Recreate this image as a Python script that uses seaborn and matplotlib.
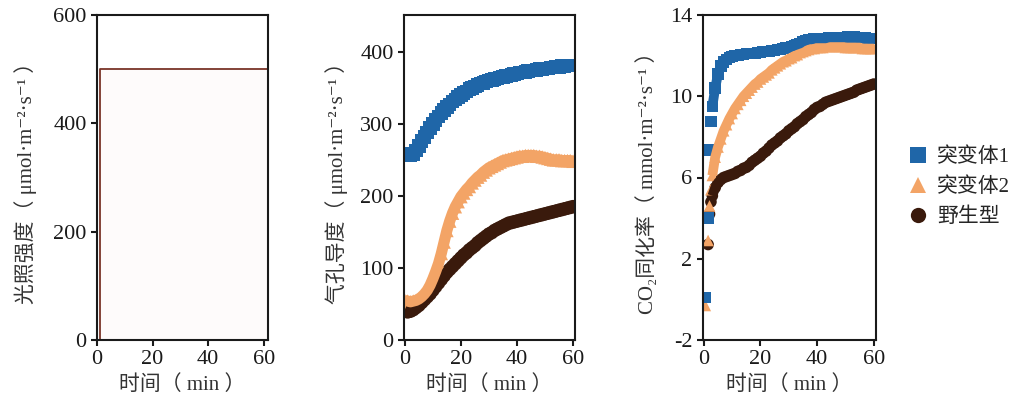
import matplotlib
matplotlib.use("Agg")
import matplotlib.pyplot as plt
import numpy as np
import pandas as pd
import seaborn as sns

# ---------------------------------------------------------------------------
# Data
# ---------------------------------------------------------------------------
GENOTYPES = ["突变体1", "突变体2", "野生型"]
COLORS = {"突变体1": "#1f66a8", "突变体2": "#f3a466", "野生型": "#3a1a0c"}
MARKERS = {"突变体1": "s", "突变体2": "^", "野生型": "o"}

# panel 1: light intensity step
light_time = [1, 1, 61.5]
light_value = [0, 500, 500]

# panel 2: stomatal conductance, one point per minute
gs_time = list(range(0, 61))
gs_m1 = [258, 257, 256, 258, 263, 269, 276, 282, 288, 294,
         300, 305, 310, 315, 319, 323, 327, 331, 334, 337,
         340, 343, 345, 348, 350, 352, 354, 356, 357, 359,
         360, 361, 362, 363, 364, 365, 366, 367, 368, 369,
         370, 371, 371, 372, 373, 374, 374, 375, 376, 376,
         377, 377, 378, 378, 379, 379, 380, 380, 381, 381, 381]
gs_m2 = [55, 54, 53, 54, 55, 57, 60, 64, 69, 76,
         85, 95, 106, 120, 136, 152, 165, 176, 185, 192,
         199, 204, 209, 213, 218, 222, 226, 229, 233, 236,
         239, 241, 243, 245, 247, 249, 250, 251, 252, 253,
         254, 255, 255, 256, 256, 256, 256, 255, 255, 254,
         253, 252, 251, 250, 250, 250, 249, 249, 249, 249, 248]
gs_wt = [40, 39, 40, 42, 45, 48, 52, 56, 60, 64,
         69, 74, 79, 84, 89, 94, 98, 102, 106, 110,
         114, 118, 121, 125, 128, 131, 135, 138, 141, 144,
         147, 149, 152, 154, 156, 158, 160, 162, 163, 164,
         165, 166, 167, 168, 169, 170, 171, 172, 173, 174,
         175, 176, 177, 178, 179, 180, 181, 182, 183, 184, 185]

# panel 3: CO2 assimilation rate
a_time = [0.5, 1.5, 2, 2.5, 3] + list(range(4, 61))
a_m1 = [0.1, 4.0, 7.35, 8.75, 9.5,
        10.4, 11.1, 11.5, 11.7, 11.8, 11.9, 11.95, 12.0, 12.0, 12.05,
        12.05, 12.1, 12.1, 12.1, 12.1, 12.15, 12.15, 12.2, 12.2, 12.2,
        12.25, 12.25, 12.3, 12.3, 12.35, 12.4, 12.4, 12.45, 12.5, 12.55,
        12.6, 12.7, 12.75, 12.8, 12.8, 12.85, 12.85, 12.85, 12.85, 12.85,
        12.9, 12.9, 12.9, 12.9, 12.9, 12.9, 12.9, 12.95, 12.95, 12.95,
        12.9, 12.9, 12.9, 12.9, 12.85, 12.85, 12.85]
a_m2 = [-0.3, 2.9, 4.6, 5.4, 6.1,
        7.0, 7.5, 7.9, 8.3, 8.6, 8.9, 9.15, 9.4, 9.6, 9.8,
        10.0, 10.15, 10.3, 10.45, 10.6, 10.7, 10.85, 10.95, 11.05, 11.15,
        11.3, 11.4, 11.5, 11.6, 11.7, 11.75, 11.85, 11.9, 12.0, 12.05,
        12.15, 12.2, 12.25, 12.3, 12.35, 12.35, 12.4, 12.4, 12.4, 12.45,
        12.45, 12.45, 12.45, 12.45, 12.45, 12.45, 12.4, 12.4, 12.4, 12.4,
        12.4, 12.4, 12.35, 12.35, 12.35, 12.35, 12.35]
a_wt = [np.nan, 2.7, 4.2, 4.8, 5.1,
        5.5, 5.75, 5.9, 6.0, 6.05, 6.1, 6.15, 6.2, 6.3, 6.35,
        6.45, 6.5, 6.6, 6.75, 6.85, 6.95, 7.05, 7.2, 7.3, 7.45,
        7.6, 7.7, 7.8, 7.95, 8.05, 8.15, 8.3, 8.4, 8.5, 8.65,
        8.75, 8.85, 9.0, 9.1, 9.2, 9.35, 9.45, 9.5, 9.6, 9.7,
        9.75, 9.8, 9.85, 9.9, 9.95, 10.0, 10.05, 10.1, 10.15, 10.2,
        10.3, 10.35, 10.4, 10.45, 10.5, 10.55, 10.6]

# ---------------------------------------------------------------------------
# Styling
# ---------------------------------------------------------------------------
sns.set_theme(style="ticks")
FAMILY = ["Liberation Serif", "Noto Sans CJK SC", "DejaVu Serif"]
plt.rcParams.update(
    {
        "font.family": FAMILY,
        "axes.unicode_minus": False,
        "axes.linewidth": 1.5,
        "axes.edgecolor": "#1a1a1a",
        "xtick.major.width": 1.5,
        "ytick.major.width": 1.5,
        "xtick.major.size": 4,
        "ytick.major.size": 4,
        "xtick.direction": "out",
        "ytick.direction": "out",
        "xtick.labelsize": 16,
        "ytick.labelsize": 16,
        "xtick.color": "#1a1a1a",
        "ytick.color": "#1a1a1a",
        "axes.labelsize": 15,
        "axes.labelcolor": "#333333",
    }
)


def long_frame(time, series: dict) -> pd.DataFrame:
    """Stack the per-genotype series; wild type first so mutant 1 sits on top."""
    frames = []
    for name in ["野生型", "突变体2", "突变体1"]:
        frames.append(pd.DataFrame({"time": time, "value": series[name], "genotype": name}))
    return pd.concat(frames, ignore_index=True).dropna()


def draw_band(ax, df, size, band_width, first=0):
    """Dense marker band: a thick line under the markers fills the gaps."""
    for name in ["野生型", "突变体2", "突变体1"]:
        part = df[(df["genotype"] == name) & (df["time"] >= first)]
        sns.lineplot(data=part, x="time", y="value", ax=ax, color=COLORS[name],
                     lw=band_width, sort=False, estimator=None, legend=False,
                     solid_capstyle="butt")
    sns.scatterplot(data=df, x="time", y="value", hue="genotype", style="genotype",
                    hue_order=GENOTYPES, style_order=GENOTYPES, palette=COLORS,
                    markers=MARKERS, s=size, linewidth=0, ax=ax, legend=True)


def style_axis(ax, ylabel, ylim, yticks, xlim, labelpad):
    ax.set_xlim(*xlim)
    ax.set_ylim(*ylim)
    ax.set_xticks([0, 20, 40, 60])
    ax.set_yticks(yticks)
    for side in ["top", "right"]:
        ax.spines[side].set_visible(True)
    ax.set_xlabel("时间（ min ）", fontsize=15, labelpad=4)
    ax.set_ylabel(ylabel, fontsize=15, labelpad=labelpad)


fig = plt.figure(figsize=(10.25, 4.12), dpi=100)
ax1 = fig.add_axes([97 / 1025, 72 / 412, 171 / 1025, 325 / 412])
ax2 = fig.add_axes([404 / 1025, 72 / 412, 171 / 1025, 325 / 412])
ax3 = fig.add_axes([703 / 1025, 72 / 412, 173 / 1025, 325 / 412])

# panel 1
sns.lineplot(x=light_time, y=light_value, ax=ax1, color="#7a3428", lw=1.3,
             sort=False, estimator=None)
ax1.fill_between(light_time, light_value, color="#fdf6f4", alpha=0.35, lw=0)
style_axis(ax1, "光照强度（ μmol·m⁻²·s⁻¹ ）", (0, 600), [0, 200, 400, 600],
           (0, 61.5), 12)

# panel 2
gs_df = long_frame(gs_time, {"突变体1": gs_m1, "突变体2": gs_m2, "野生型": gs_wt})
draw_band(ax2, gs_df, 95, 8)
ax2.get_legend().remove()
style_axis(ax2, "气孔导度（ μmol·m⁻²·s⁻¹ ）", (0, 451), [0, 100, 200, 300, 400],
           (-0.3, 60.7), 9)

# panel 3
a_df = long_frame(a_time, {"突变体1": a_m1, "突变体2": a_m2, "野生型": a_wt})
draw_band(ax3, a_df, 70, 7, first=3)
style_axis(ax3, "CO₂同化率（ mmol·m⁻²·s⁻¹ ）", (-2, 14), [-2, 2, 6, 10, 14],
           (-0.3, 60.8), 9)

handles, labels = ax3.get_legend_handles_labels()
ax3.get_legend().remove()
for h in handles:
    h.set_markersize(11)
fig.legend(handles, labels, loc="center left", bbox_to_anchor=(908 / 1025, 0.545),
           frameon=False, handlelength=1.0, handletextpad=0.4, labelspacing=0.5,
           borderpad=0, borderaxespad=0, prop={"size": 15})

fig.savefig("out.png", dpi=100)
